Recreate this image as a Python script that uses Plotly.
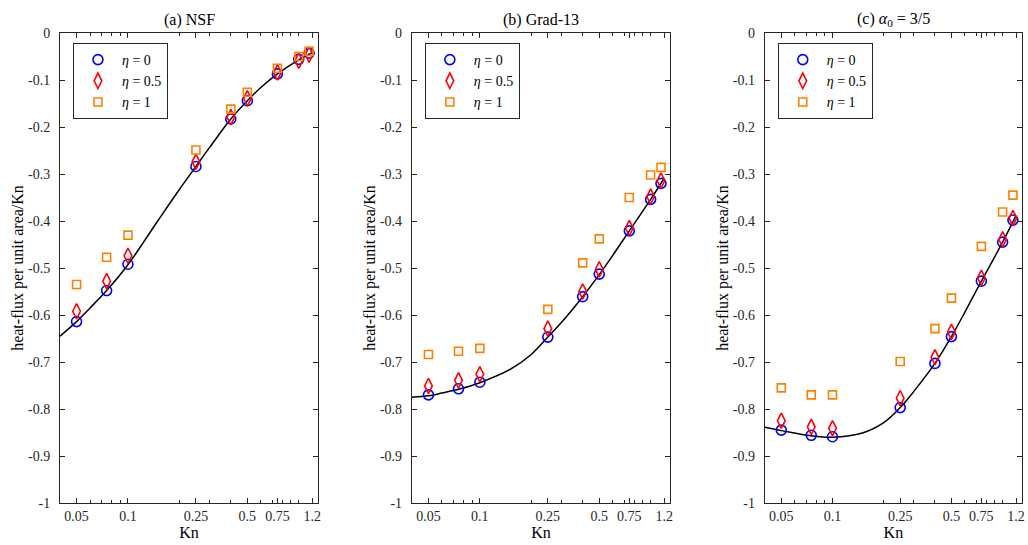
import plotly.graph_objects as go

# Knudsen numbers of the sampled points
kn_pts = [0.05, 0.075, 0.1, 0.25, 0.4, 0.5, 0.75, 1.0, 1.15]

# (a) NSF
nsf_eta0 = [-0.614, -0.548, -0.492, -0.284, -0.183, -0.144, -0.087, -0.056, -0.043]
nsf_eta05 = [-0.592, -0.528, -0.474, -0.274, -0.179, -0.139, -0.084, -0.059, -0.046]
nsf_eta1 = [-0.535, -0.477, -0.430, -0.249, -0.162, -0.126, -0.075, -0.050, -0.039]
nsf_curve_kn = [0.04, 0.05, 0.06, 0.075, 0.1, 0.15, 0.2, 0.25, 0.3, 0.4, 0.5, 0.6, 0.75, 1.0, 1.2]
nsf_curve = [-0.645, -0.614, -0.585, -0.548, -0.493, -0.399, -0.333, -0.284, -0.244,
             -0.183, -0.144, -0.116, -0.087, -0.057, -0.042]

# (b) Grad-13
g13_eta0 = [-0.770, -0.757, -0.743, -0.647, -0.561, -0.513, -0.421, -0.354, -0.320]
g13_eta05 = [-0.751, -0.739, -0.726, -0.629, -0.550, -0.503, -0.415, -0.348, -0.314]
g13_eta1 = [-0.684, -0.677, -0.671, -0.588, -0.489, -0.438, -0.350, -0.302, -0.286]
g13_curve_kn = [0.04, 0.05, 0.06, 0.075, 0.1, 0.15, 0.2, 0.25, 0.3, 0.4, 0.5, 0.6, 0.75, 1.0, 1.2]
g13_curve = [-0.775, -0.772, -0.766, -0.758, -0.744, -0.716, -0.684, -0.647, -0.616,
             -0.561, -0.514, -0.473, -0.421, -0.354, -0.309]

# (c) alpha_0 = 3/5
a35_eta0 = [-0.845, -0.856, -0.859, -0.797, -0.703, -0.646, -0.528, -0.445, -0.398]
a35_eta05 = [-0.825, -0.838, -0.841, -0.777, -0.690, -0.636, -0.521, -0.439, -0.394]
a35_eta1 = [-0.755, -0.770, -0.770, -0.699, -0.629, -0.564, -0.454, -0.381, -0.345]
a35_curve_kn = [0.04, 0.05, 0.06, 0.075, 0.1, 0.15, 0.2, 0.25, 0.3, 0.4, 0.5, 0.6, 0.75, 1.0, 1.2]
a35_curve = [-0.839, -0.846, -0.851, -0.857, -0.860, -0.851, -0.829, -0.797, -0.763,
             -0.703, -0.646, -0.594, -0.528, -0.445, -0.388]

x_tickvals = [0.05, 0.1, 0.25, 0.5, 0.75, 1.2]
x_ticktext = ["0.05", "0.1", "0.25", "0.5", "0.75", "1.2"]
x_minor = [0.06, 0.07, 0.08, 0.09, 0.2, 0.3, 0.4, 0.6, 0.7, 0.8, 0.9, 1.0]
y_tickvals = [-1, -0.9, -0.8, -0.7, -0.6, -0.5, -0.4, -0.3, -0.2, -0.1, 0]
y_ticktext = ["-1", "-0.9", "-0.8", "-0.7", "-0.6", "-0.5", "-0.4", "-0.3", "-0.2", "-0.1", "0"]

titles = ["(a) NSF", "(b) Grad-13", "(c) <i>α</i><sub>0</sub> = 3/5"]
series_names = ["<i>η</i> = 0", "<i>η</i> = 0.5", "<i>η</i> = 1"]

panels = [
    (nsf_curve_kn, nsf_curve, [nsf_eta0, nsf_eta05, nsf_eta1]),
    (g13_curve_kn, g13_curve, [g13_eta0, g13_eta05, g13_eta1]),
    (a35_curve_kn, a35_curve, [a35_eta0, a35_eta05, a35_eta1]),
]

FONT = "Liberation Serif"
AX = "#262626"
marker_styles = [
    dict(symbol="circle-open", size=10, color="#0000FF", line=dict(width=1.6, color="#0000FF")),
    dict(symbol="diamond-tall-open", size=11, color="#FF0000", line=dict(width=1.6, color="#FF0000")),
    dict(symbol="square-open", size=8, color="#FF8000", line=dict(width=1.6, color="#FF8000")),
]

W, H = 1028, 545
ml, mr, mt, mb = 60, 3, 33, 42
pw = W - ml - mr
ph = H - mt - mb
panel_left_px = [60, 413, 767]
panel_w = 259

fig = go.Figure()
layout = dict(
    width=W, height=H,
    margin=dict(l=ml, r=mr, t=mt, b=mb),
    paper_bgcolor="white", plot_bgcolor="white",
    font=dict(family=FONT, size=14, color="black"),
    annotations=[],
)

for i, (ckn, cval, pts) in enumerate(panels):
    sfx = "" if i == 0 else str(i + 1)
    xa, ya = "x" + sfx, "y" + sfx
    leg = "legend" + sfx
    fig.add_trace(go.Scatter(x=ckn, y=cval, mode="lines", line=dict(color="black", width=1.5, shape="spline"),
                             xaxis=xa, yaxis=ya, showlegend=False, hoverinfo="skip"))
    for j, vals in enumerate(pts):
        fig.add_trace(go.Scatter(x=kn_pts, y=vals, mode="markers", name=series_names[j],
                                 marker=marker_styles[j], xaxis=xa, yaxis=ya, legend=leg))
    x0 = (panel_left_px[i] - ml) / pw
    x1 = min((panel_left_px[i] + panel_w - ml) / pw, 1)
    layout["xaxis" + sfx] = dict(
        type="log", range=[-1.39794, 0.11394], domain=[x0, x1], anchor=ya,
        tickmode="array", tickvals=x_tickvals, ticktext=x_ticktext, tickangle=0,
        ticks="inside", ticklen=5, tickwidth=1, tickcolor=AX,
        minor=dict(tickmode="array", tickvals=x_minor, ticks="inside", ticklen=3, tickcolor=AX, showgrid=False),
        showline=True, linecolor=AX, linewidth=1, mirror="ticks", showgrid=False, zeroline=False,
        tickfont=dict(size=14, family=FONT, color=AX),
        title=dict(text="Kn", font=dict(size=16, family=FONT, color="black"), standoff=4),
    )
    layout["yaxis" + sfx] = dict(
        range=[-1, 0], domain=[0, 1], anchor=xa,
        tickmode="array", tickvals=y_tickvals, ticktext=y_ticktext,
        ticks="inside", ticklen=5, tickwidth=1, tickcolor=AX,
        showline=True, linecolor=AX, linewidth=1, mirror="ticks", showgrid=False, zeroline=False,
        tickfont=dict(size=14, family=FONT, color=AX), ticklabelstandoff=6,
        title=dict(text="heat-flux per unit area/Kn", font=dict(size=16, family=FONT, color="black"), standoff=0),
    )
    layout[leg] = dict(
        x=(panel_left_px[i] + 13 - ml) / pw, y=1 - 10 / ph, xanchor="left", yanchor="top",
        bgcolor="white", bordercolor=AX, borderwidth=1, itemwidth=38,
        font=dict(size=14, family=FONT, color="black"), tracegroupgap=0,
    )
    layout["annotations"].append(dict(
        text=titles[i], xref="paper", yref="paper", x=(x0 + x1) / 2, y=1 + 13 / ph,
        xanchor="center", yanchor="middle", showarrow=False,
        font=dict(size=16, family=FONT, color="black"),
    ))

fig.update_layout(**layout)
fig.write_html("out.html")
